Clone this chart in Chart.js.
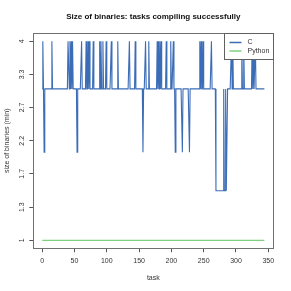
<!DOCTYPE html>
<html>
<head>
<meta charset="utf-8">
<script src="https://cdn.jsdelivr.net/npm/chart.js@4"></script>
<style>
  html, body { margin: 0; padding: 0; background: #fff; }
</style>
</head>
<body>
<canvas id="sizeChart" width="291" height="291"></canvas>
<script>
// ==========================================
// DATA (one value per task)
// ==========================================
const cSizes = [
  3.1,4,3.1,2.08,3.1,3.1,3.1,3.1,3.1,3.1,3.1,3.1,3.1,3.1,3.1,4,3.1,3.1,3.1,3.1,
  3.1,3.1,3.1,3.1,3.1,3.1,3.1,3.1,3.1,3.1,3.1,3.1,3.1,3.1,3.1,3.1,3.1,3.1,3.1,3.1,
  4,4,3.1,4,3.1,4,3.1,4,3.1,3.1,3.1,3.1,3.1,3.1,2.08,3.1,3.1,3.1,3.1,3.1,
  3.1,4,3.1,3.1,3.1,3.1,3.1,3.1,4,3.1,3.1,4,3.1,4,3.1,3.1,3.1,3.1,3.1,4,
  3.1,3.1,3.1,3.1,3.1,3.1,3.1,3.1,3.1,4,3.1,4,3.1,3.1,4,3.1,3.1,3.1,3.1,4,
  3.1,3.1,3.1,3.1,3.1,3.1,3.1,4,3.1,3.1,3.1,3.1,3.1,3.1,3.1,3.1,3.1,4,3.1,3.1,
  3.1,3.1,3.1,3.1,3.1,3.1,3.1,3.1,3.1,3.1,3.1,3.1,3.1,3.1,3.1,4,3.1,3.1,3.1,3.1,
  3.1,3.1,3.1,3.1,4,3.1,3.1,3.1,3.1,3.1,3.1,3.1,3.1,3.1,3.1,3.1,2.08,3.1,3.1,3.1,
  4,3.1,3.1,3.1,3.1,4,3.1,3.1,3.1,3.1,3.1,3.1,3.1,3.1,3.1,3.1,3.1,3.1,4,3.1,
  4,3.1,4,3.1,4,3.1,3.1,3.1,3.1,3.1,3.1,3.1,4,3.1,3.1,3.1,3.1,3.1,3.1,4,
  3.1,3.1,3.1,4,3.1,3.1,2.08,3.1,3.1,3.1,3.1,3.1,3.1,3.1,3.1,3.1,3.1,2.08,3.1,3.1,
  3.1,3.1,3.1,3.1,3.1,3.1,3.1,3.1,2.08,3.1,3.1,3.1,3.1,3.1,3.1,3.1,3.1,3.1,3.1,3.1,
  3.1,3.1,3.1,3.1,4,3.1,4,3.1,3.1,4,3.1,3.1,3.1,3.1,3.1,3.1,3.1,3.1,3.1,3.1,
  3.1,3.1,4,3.1,3.1,3.1,3.1,3.1,3.1,1.56,1.56,1.56,1.56,1.56,1.56,1.56,1.56,1.56,1.56,1.56,
  1.56,3.1,1.56,1.56,3.1,1.56,1.56,3.1,3.1,3.1,3.1,3.1,3.1,4,3.1,4,3.1,3.1,3.1,3.1,
  3.1,3.1,3.1,3.1,3.1,3.1,3.1,3.1,3.1,4,3.1,3.1,4,3.1,3.1,3.1,3.1,3.1,3.1,3.1,
  3.1,3.1,3.1,3.1,3.1,4,3.1,4,3.1,3.1,4,3.1,3.1,3.1,3.1,3.1,3.1,3.1,3.1,3.1,
  3.1,3.1,3.1,3.1,3.1
];

const pythonSizes = [
  1,1,1,1,1,1,1,1,1,1,1,1,1,1,1,1,1,1,1,1,
  1,1,1,1,1,1,1,1,1,1,1,1,1,1,1,1,1,1,1,1,
  1,1,1,1,1,1,1,1,1,1,1,1,1,1,1,1,1,1,1,1,
  1,1,1,1,1,1,1,1,1,1,1,1,1,1,1,1,1,1,1,1,
  1,1,1,1,1,1,1,1,1,1,1,1,1,1,1,1,1,1,1,1,
  1,1,1,1,1,1,1,1,1,1,1,1,1,1,1,1,1,1,1,1,
  1,1,1,1,1,1,1,1,1,1,1,1,1,1,1,1,1,1,1,1,
  1,1,1,1,1,1,1,1,1,1,1,1,1,1,1,1,1,1,1,1,
  1,1,1,1,1,1,1,1,1,1,1,1,1,1,1,1,1,1,1,1,
  1,1,1,1,1,1,1,1,1,1,1,1,1,1,1,1,1,1,1,1,
  1,1,1,1,1,1,1,1,1,1,1,1,1,1,1,1,1,1,1,1,
  1,1,1,1,1,1,1,1,1,1,1,1,1,1,1,1,1,1,1,1,
  1,1,1,1,1,1,1,1,1,1,1,1,1,1,1,1,1,1,1,1,
  1,1,1,1,1,1,1,1,1,1,1,1,1,1,1,1,1,1,1,1,
  1,1,1,1,1,1,1,1,1,1,1,1,1,1,1,1,1,1,1,1,
  1,1,1,1,1,1,1,1,1,1,1,1,1,1,1,1,1,1,1,1,
  1,1,1,1,1,1,1,1,1,1,1,1,1,1,1,1,1,1,1,1,
  1,1,1,1,1
];

const seriesNames = ['C', 'Python'];
const chartTitle = 'Size of binaries: tasks compiling successfully';
const xTicks = [0, 50, 100, 150, 200, 250, 300, 350];
// y axis is a square-root scale; ticks sit at these sizes, labels are truncated
const yTickValues = [1, 1.36, 1.78, 2.25, 2.78, 3.36, 4];
const yTickLabels = ['1', '1.3', '1.7', '2.2', '2.7', '3.3', '4'];

const taskIds = cSizes.map((_, i) => i);

const FONT = '"Liberation Sans", Arial, sans-serif';
const C_COLOR = '#3b6cb6';
const PY_COLOR = '#7fd07f';

// ==========================================
// R-LIKE DECORATIONS: title, box, rotated y labels, legend
// ==========================================
const rDecor = {
    id: 'rDecor',
    afterDraw(chart) {
        const ctx = chart.ctx;
        const a = chart.chartArea;
        const yScale = chart.scales.y;
        ctx.save();

        // title, centred over the plot box
        ctx.fillStyle = '#111';
        ctx.font = 'bold 8px ' + FONT;
        ctx.textAlign = 'center';
        ctx.textBaseline = 'middle';
        ctx.fillText(chartTitle, (a.left + a.right) / 2, 16.7);

        // plot box
        ctx.strokeStyle = '#707070';
        ctx.lineWidth = 1;
        ctx.strokeRect(Math.round(a.left) + 0.5, Math.round(a.top) + 0.5,
                       Math.round(a.right - a.left), Math.round(a.bottom - a.top));

        // y tick labels, written along the axis
        ctx.fillStyle = '#333';
        ctx.font = '7px ' + FONT;
        yTickValues.forEach((v, i) => {
            const py = yScale.getPixelForValue(Math.sqrt(v));
            ctx.save();
            ctx.translate(22, py);
            ctx.rotate(-Math.PI / 2);
            ctx.fillText(yTickLabels[i], 0, 0);
            ctx.restore();
        });

        // legend in the top right corner
        const lx = 224.5, ly = Math.round(a.top) + 0.5, lw = Math.round(a.right) - 224, lh = 26;
        ctx.fillStyle = '#fff';
        ctx.fillRect(lx, ly, lw, lh);
        ctx.strokeStyle = '#606060';
        ctx.strokeRect(lx, ly, lw, lh);
        ctx.textAlign = 'left';
        chart.data.datasets.forEach((ds, i) => {
            const yy = ly + 9 + i * 8.5;
            ctx.strokeStyle = ds.borderColor;
            ctx.lineWidth = 1.5;
            ctx.beginPath();
            ctx.moveTo(229.5, yy);
            ctx.lineTo(241.5, yy);
            ctx.stroke();
            ctx.fillStyle = '#333';
            ctx.fillText(ds.label, 247.5, yy);
        });

        ctx.restore();
    }
};

new Chart(document.getElementById('sizeChart'), {
    type: 'line',
    data: {
        labels: taskIds,
        datasets: [
            { label: seriesNames[0], data: cSizes.map(Math.sqrt), borderColor: C_COLOR, borderWidth: 1.1 },
            { label: seriesNames[1], data: pythonSizes.map(Math.sqrt), borderColor: PY_COLOR, borderWidth: 1.3 }
        ]
    },
    options: {
        responsive: false,
        animation: false,
        layout: { padding: { left: 0, right: 17.7, top: 33.3, bottom: 0 } },
        elements: { point: { radius: 0 }, line: { tension: 0 } },
        plugins: {
            legend: { display: false },
            tooltip: { enabled: false },
            title: { display: false }
        },
        scales: {
            x: {
                type: 'linear',
                min: -13.76,
                max: 357.76,
                afterBuildTicks: (s) => { s.ticks = xTicks.map(v => ({ value: v })); },
                afterFit: (s) => { s.height = 42.7; },
                border: { display: false },
                grid: { drawOnChartArea: false, drawTicks: true, tickLength: 4, color: '#555' },
                ticks: { color: '#333', font: { family: FONT, size: 7 }, padding: 4.5, maxRotation: 0, autoSkip: false },
                title: { display: true, text: 'task', color: '#333', font: { family: FONT, size: 7 }, padding: { top: 9, bottom: 9 } }
            },
            y: {
                type: 'linear',
                min: 0.96,
                max: 2.04,
                afterBuildTicks: (s) => { s.ticks = yTickValues.map(v => ({ value: Math.sqrt(v) })); },
                afterFit: (s) => { s.width = 33.3; },
                border: { display: false },
                grid: { drawOnChartArea: false, drawTicks: true, tickLength: 4, color: '#555' },
                ticks: { display: false },
                title: { display: true, text: 'size of binaries (min)', color: '#333', font: { family: FONT, size: 7 }, padding: { top: 2.5, bottom: 2.5 } }
            }
        }
    },
    plugins: [rDecor]
});
</script>
</body>
</html>
